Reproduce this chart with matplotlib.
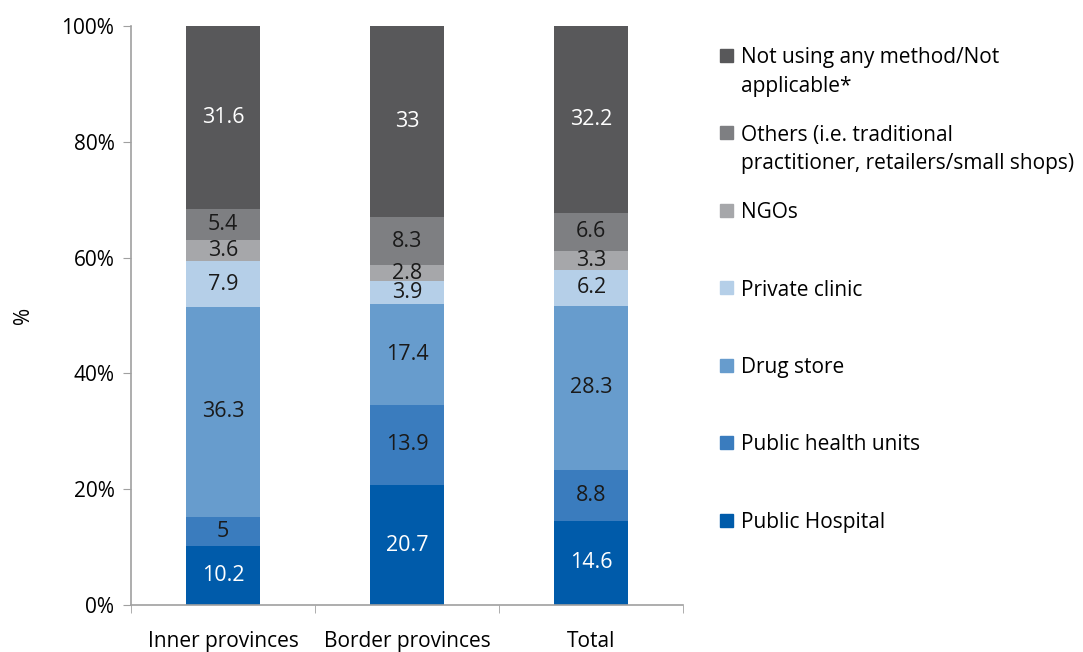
import matplotlib
matplotlib.use("Agg")
import matplotlib.pyplot as plt
from matplotlib.patches import Rectangle
from matplotlib.ticker import FixedLocator, PercentFormatter

plt.rcParams['font.family'] = ['Open Sans', 'DejaVu Sans']

groups = ['Inner provinces', 'Border provinces', 'Total']
series = ['Public Hospital', 'Public health units', 'Drug store', 'Private clinic',
          'NGOs', 'Others (i.e. traditional\npractitioner, retailers/small shops)',
          'Not using any method/Not\napplicable*']
public_hospital = [10.2, 20.7, 14.6]
public_health_units = [5, 13.9, 8.8]
drug_store = [36.3, 17.4, 28.3]
private_clinic = [7.9, 3.9, 6.2]
ngos = [3.6, 2.8, 3.3]
others = [5.4, 8.3, 6.6]
not_using = [31.6, 33, 32.2]
values = [public_hospital, public_health_units, drug_store, private_clinic,
          ngos, others, not_using]

colors = ['#005BAA', '#3A7CBE', '#679CCD', '#B5CFE8', '#A6A7AA', '#7E7F82', '#58585A']
text_colors = ['white', '#1a1a1a', '#1a1a1a', '#1a1a1a', '#1a1a1a', '#1a1a1a', 'white']
FS = 15

fig = plt.figure(figsize=(10.83, 6.52), dpi=100)
ax = fig.add_axes([0.121, 0.072, 0.510, 0.888])

x = range(len(groups))
bottom = [0, 0, 0]
for vals, col, tcol in zip(values, colors, text_colors):
    bars = ax.bar(x, vals, 0.4, bottom=bottom, color=col, edgecolor='none')
    labels = [('%g' % v) for v in vals]
    ax.bar_label(bars, labels=labels, label_type='center', color=tcol, fontsize=FS + 0.5)
    bottom = [b + v for b, v in zip(bottom, vals)]

ax.set_xlim(-0.5, 2.5)
ax.set_ylim(0, 100)
ax.set_yticks([0, 20, 40, 60, 80, 100])
ax.yaxis.set_major_formatter(PercentFormatter(decimals=0))
ax.set_xticks(list(x))
ax.set_xticklabels(groups)
ax.xaxis.set_minor_locator(FixedLocator([-0.5, 0.5, 1.5, 2.5]))
ax.tick_params(axis='x', which='major', length=0, pad=19, labelsize=FS)
ax.tick_params(axis='x', which='minor', length=6, color='#A0A0A0')
ax.tick_params(axis='y', length=6, color='#A0A0A0', labelsize=FS, pad=6)
for s in ['top', 'right']:
    ax.spines[s].set_visible(False)
for s in ['left', 'bottom']:
    ax.spines[s].set_color('#A0A0A0')
    ax.spines[s].set_linewidth(1.2)
ax.set_ylabel('%', fontsize=FS, labelpad=20)

# legend drawn by hand, top entry first
W, H = 1083.0, 652.0
for i, (name, col) in enumerate(zip(series[::-1], colors[::-1])):
    yc = 55 + i * 77.5
    fig.patches.append(Rectangle((720 / W, 1 - (yc + 6.5) / H), 13 / W, 13 / H,
                                 transform=fig.transFigure, color=col))
    fig.text(741 / W, 1 - (yc - 8) / H, name, fontsize=FS, va='top', ha='left',
             linespacing=1.5)

fig.savefig('out.png', dpi=100)
